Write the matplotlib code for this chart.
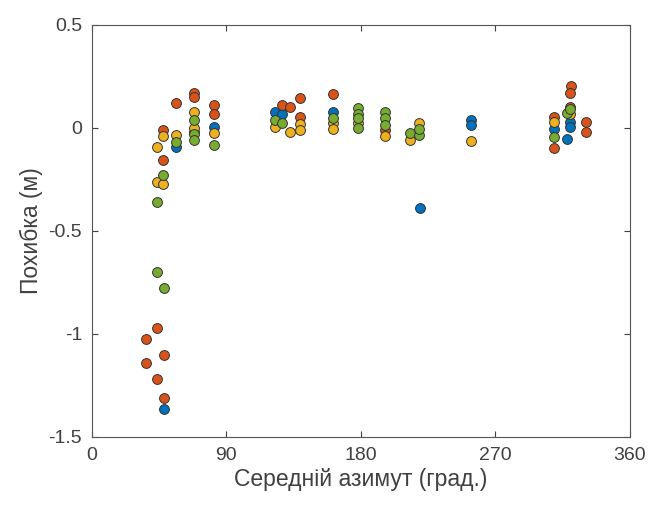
import numpy as np
import matplotlib
matplotlib.use("Agg")
import matplotlib.pyplot as plt

plt.rcParams['font.family'] = ['Liberation Sans', 'DejaVu Sans']
plt.rcParams['axes.unicode_minus'] = False

# azimuth (deg) / error (m), one list pair per series
blue_az = [48.2, 56, 81.7, 122.5, 127, 161.5, 219.5, 254, 254, 309, 320, 320, 318, 68.3]
blue_err = [-1.364, -0.09, 0.006, 0.08, 0.07, 0.076, -0.39, 0.039, 0.015, -0.006, 0.03, 0.006, -0.053, -0.02]

orange_az = [36.5, 36.5, 43.7, 43.7, 48.2, 48.2, 47.5, 47.5, 56.2, 68.3, 68.3, 81.7, 81.7,
             127, 132.5, 139, 139, 161.5, 196, 309, 309, 320.5, 320, 320, 330.5, 330.5]
orange_err = [-1.026, -1.14, -0.972, -1.22, -1.10, -1.31, -0.155, -0.01, 0.123, 0.168, 0.15, 0.11, 0.07,
              0.11, 0.10, 0.144, 0.055, 0.165, -0.01, 0.052, -0.099, 0.204, 0.168, 0.103, 0.03, -0.018]

yellow_az = [43.7, 43.7, 47.5, 47.5, 56, 68.3, 68.3, 81.7, 132.5, 139, 139, 161.5, 161.5,
             178, 196, 213, 219, 254, 309, 320, 122.5]
yellow_err = [-0.09, -0.26, -0.27, -0.04, -0.034, 0.08, 0.0, -0.025, -0.018, 0.02, -0.01, 0.023, -0.006,
              0.025, -0.04, -0.058, 0.023, -0.063, 0.03, 0.07, 0.006]

green_az = [43.7, 43.7, 48.2, 47.5, 56, 68.3, 68.3, 68.3, 81.7, 122.5, 127, 161.5, 178, 178, 178, 178,
            196, 196, 196, 213, 219, 219, 309, 318, 320]
green_err = [-0.358, -0.70, -0.775, -0.228, -0.066, 0.04, -0.03, -0.06, -0.083, 0.04, 0.024, 0.05,
             0.095, 0.07, 0.05, -0.002, 0.08, 0.047, 0.015, -0.026, -0.034, -0.006, -0.042, 0.071, 0.09]

series = [
    (blue_az, blue_err, '#0072BD'),
    (orange_az, orange_err, '#D95319'),
    (yellow_az, yellow_err, '#EDB120'),
    (green_az, green_err, '#77AC30'),
]

fig = plt.figure(figsize=(6.56, 5.05), dpi=100)
ax = fig.add_axes([0.140, 0.1347, 0.820, 0.8158])

for az, err, col in series:
    ax.scatter(az, err, s=50, c=col, edgecolors='#333333', linewidths=0.7, zorder=3)

ax.set_xlim(0, 360)
ax.set_ylim(-1.5, 0.5)
ax.set_xticks([0, 90, 180, 270, 360])
ax.set_yticks([-1.5, -1, -0.5, 0, 0.5])
ax.set_yticklabels(['-1.5', '-1', '-0.5', '0', '0.5'])

ax.tick_params(direction='in', top=True, right=True, length=4, width=0.8,
               colors='#404040', labelsize=14)
ax.tick_params(axis='x', pad=7)
ax.tick_params(axis='y', pad=7)
for sp in ax.spines.values():
    sp.set_color('#555555')
    sp.set_linewidth(0.8)

ax.set_xlabel('Середній азимут (град.)', fontsize=16.5, color='#404040', labelpad=3)
ax.set_ylabel('Похибка (м)', fontsize=16.5, color='#404040', labelpad=4)

fig.savefig('out.png', dpi=100)
